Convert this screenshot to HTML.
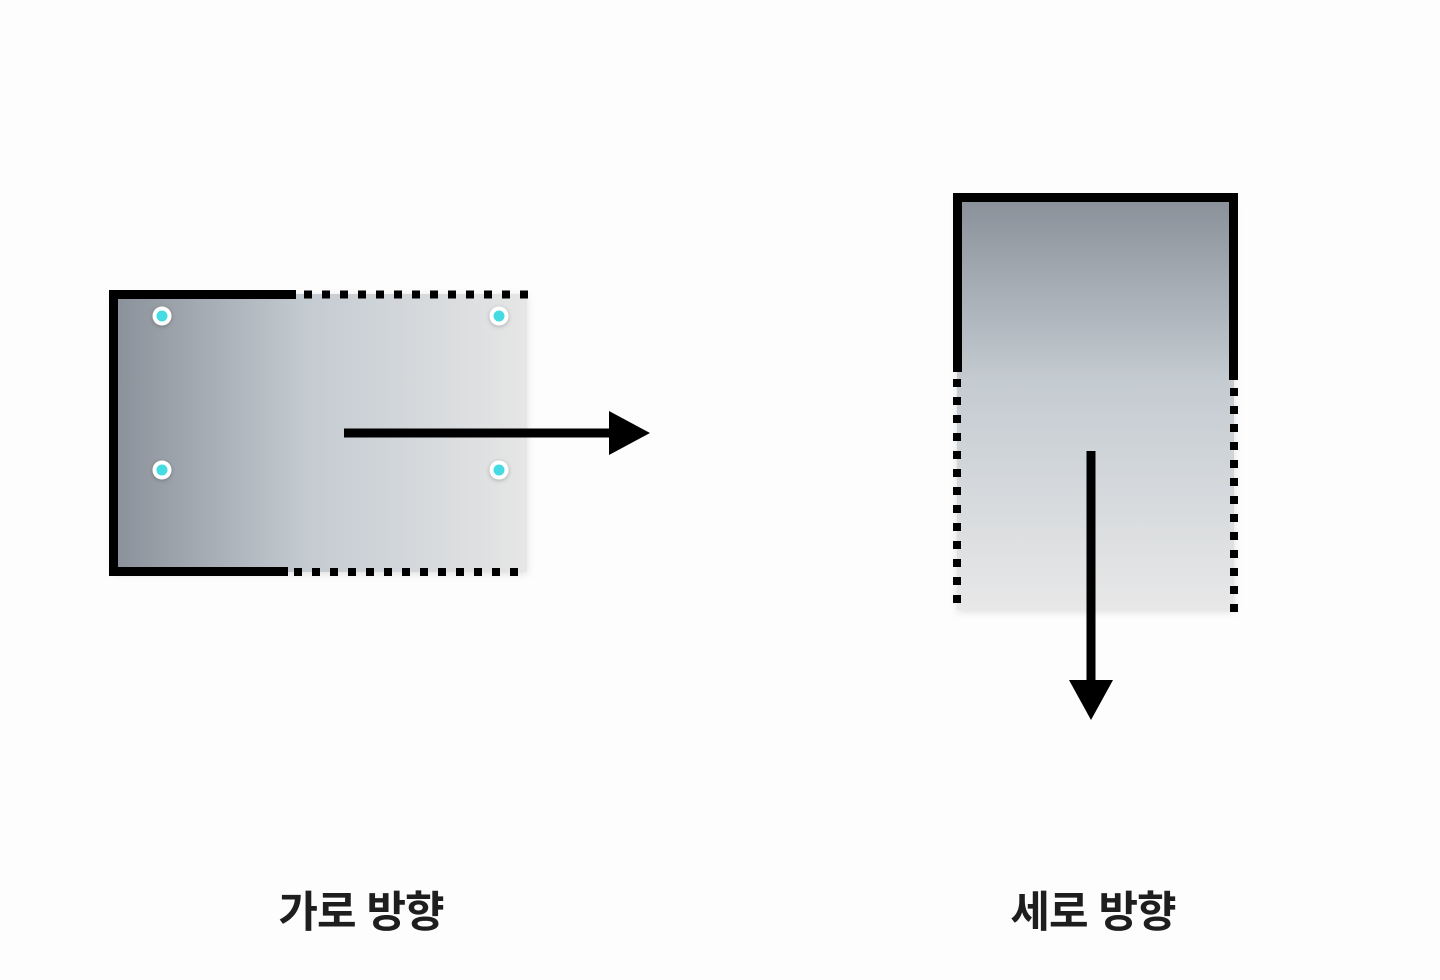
<!DOCTYPE html>
<html><head><meta charset="utf-8"><style>
html,body{margin:0;padding:0;background:#fdfdfd;}
body{width:1440px;height:980px;position:relative;overflow:hidden;}
.lbl{position:absolute;top:878px;font:700 43px "Liberation Sans","Noto Sans CJK KR",sans-serif;color:#1e1e1e;width:400px;text-align:center;letter-spacing:-1px;}
</style></head><body>
<svg width="1440" height="980" style="position:absolute;left:0;top:0">
<defs>
<linearGradient id="gh" x1="0" x2="1" y1="0" y2="0">
<stop offset="0" stop-color="#8a9099"/><stop offset="0.47" stop-color="#c4cbd1"/><stop offset="1" stop-color="#e6e6e6"/>
</linearGradient>
<linearGradient id="gv" x1="0" x2="0" y1="0" y2="1">
<stop offset="0" stop-color="#8a9099"/><stop offset="0.45" stop-color="#c4cbd1"/><stop offset="1" stop-color="#e8e8e8"/>
</linearGradient>
<filter id="sh" x="-10%" y="-10%" width="120%" height="120%"><feDropShadow dx="0" dy="2" stdDeviation="4" flood-opacity="0.12"/></filter>
<filter id="ds" x="-50%" y="-50%" width="200%" height="200%"><feDropShadow dx="0" dy="1" stdDeviation="2" flood-opacity="0.25"/></filter>
</defs>
<rect x="113" y="294" width="414" height="278" fill="url(#gh)" filter="url(#sh)"/>
<path d="M296 294.5 H113.5 V571.5 H288" fill="none" stroke="#000" stroke-width="9"/>
<line x1="304" y1="294.5" x2="530" y2="294.5" stroke="#000" stroke-width="8" stroke-dasharray="8 10"/>
<line x1="294" y1="572" x2="520" y2="572" stroke="#000" stroke-width="8" stroke-dasharray="8 10"/>
<g fill="#fff" filter="url(#ds)"><circle cx="162" cy="316" r="9.5"/><circle cx="499" cy="316" r="9.5"/><circle cx="162" cy="470" r="9.5"/><circle cx="499" cy="470" r="9.5"/></g>
<g fill="#45dbe2"><circle cx="162" cy="316" r="5.5"/><circle cx="499" cy="316" r="5.5"/><circle cx="162" cy="470" r="5.5"/><circle cx="499" cy="470" r="5.5"/></g>
<line x1="344" y1="433" x2="616" y2="433" stroke="#000" stroke-width="9"/>
<polygon points="609,411 650,433 609,455" fill="#000"/>
<rect x="957" y="197" width="277" height="413" fill="url(#gv)" filter="url(#sh)"/>
<path d="M957.5 372 V197.5 H1233.5 V380" fill="none" stroke="#000" stroke-width="9"/>
<line x1="957" y1="379" x2="957" y2="604" stroke="#000" stroke-width="8" stroke-dasharray="8 10"/>
<line x1="1234" y1="388" x2="1234" y2="614" stroke="#000" stroke-width="8" stroke-dasharray="8 10"/>
<line x1="1091" y1="451" x2="1091" y2="686" stroke="#000" stroke-width="9"/>
<polygon points="1069,680 1113,680 1091,720" fill="#000"/>
</svg>
<div class="lbl" style="left:161px">가로 방향</div>
<div class="lbl" style="left:893px">세로 방향</div>
</body></html>
